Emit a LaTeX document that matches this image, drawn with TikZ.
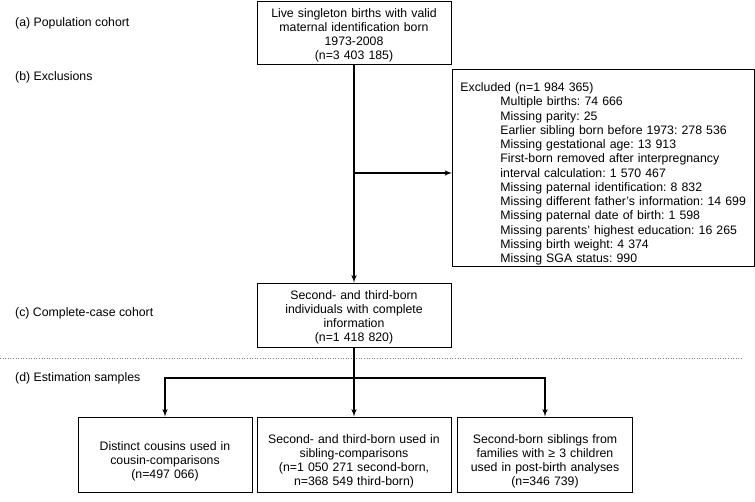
\documentclass[tikz,border=0pt]{standalone}
\usepackage{fontspec}
\setmainfont{Liberation Sans}
\frenchspacing
\usepackage{tikz}
\usetikzlibrary{shapes,arrows}
\tikzstyle{block} = [rectangle, draw, line width=0.9pt, text width=188pt,
    text centered, inner xsep=3pt, inner ysep=1pt, minimum height=63pt]
\tikzstyle{line} = [draw, line width=1.5pt, -latex']
\tikzstyle{stage} = [anchor=west, inner sep=0pt]
\newcommand{\ind}{\hspace*{40pt}}

\begin{document}
\begin{tikzpicture}[x=1pt, y=1pt, node distance=282.5pt, auto,
    font=\fontsize{12.3}{14}\selectfont]
    \useasboundingbox (0,0) rectangle (755,502);
    % Place nodes
    \node [block] (live) at (354,469.5) {\rule{0pt}{14pt}Live singleton births with valid\\maternal identification born\\1973-2008\\(n=3 403 185)};
    \node [block, below of=live, minimum height=64pt] (complete) {\rule{0pt}{14pt}Second- and third-born\\individuals with complete\\information\\(n=1 418 820)};
    \node [block, below of=complete, node distance=139.5pt, minimum height=75pt] (sibling) {\rule{0pt}{22pt}Second- and third-born used in\\sibling-comparisons\\(n=1 050 271 second-born,\\n=368 549 third-born)};
    \node [block, left of=sibling, node distance=189pt, text width=168pt, minimum height=75pt] (cousin) {\rule{0pt}{22pt}Distinct cousins used in\\cousin-comparisons\\(n=497 066)};
    \node [block, right of=sibling, node distance=191pt, text width=169pt, minimum height=75pt] (post) {\rule{0pt}{22pt}Second-born siblings from\\families with ≥ 3 children\\used in post-birth analyses\\(n=346 739)};
    \node [block, anchor=north west, text width=286pt, inner xsep=8pt, inner ysep=1pt,
        minimum height=197pt, align=left, font=\fontsize{12.3}{14.25}\selectfont] (excl) at (452,433) {\rule{0pt}{21pt}Excluded (n=1 984 365)\\
        \ind Multiple births: 74 666\\
        \ind Missing parity: 25\\
        \ind Earlier sibling born before 1973: 278 536\\
        \ind Missing gestational age: 13 913\\
        \ind First-born removed after interpregnancy\\
        \ind interval calculation: 1 570 467\\
        \ind Missing paternal identification: 8 832\\
        \ind Missing different father's information: 14 699\\
        \ind Missing paternal date of birth: 1 598\\
        \ind Missing parents' highest education: 16 265\\
        \ind Missing birth weight: 4 374\\
        \ind Missing SGA status: 990};
    % Stage labels
    \node [stage] (popA) at (15,479) {(a) Population cohort};
    \node [stage] (exclB) at (15,425) {(b) Exclusions};
    \node [stage] (compC) at (15,189) {(c) Complete-case cohort};
    \node [stage] (estD) at (15,124) {(d) Estimation samples};
    \coordinate (split) at (354,329);
    \coordinate (bus) at (354,124);
    \coordinate (sepL) at (0,144);
    \coordinate (sepR) at (743,144);
    % Draw edges
    \draw [gray, line width=0.9pt, dash pattern=on 1pt off 1.6pt] (sepL) -- (sepR);
    \path [line] (live) -- (complete);
    \path [line] (split) -- (split -| excl.west);
    \path [line] (complete) -- (sibling);
    \path [line] (bus) -| (cousin);
    \path [line] (bus) -| (post);
\end{tikzpicture}
\end{document}
